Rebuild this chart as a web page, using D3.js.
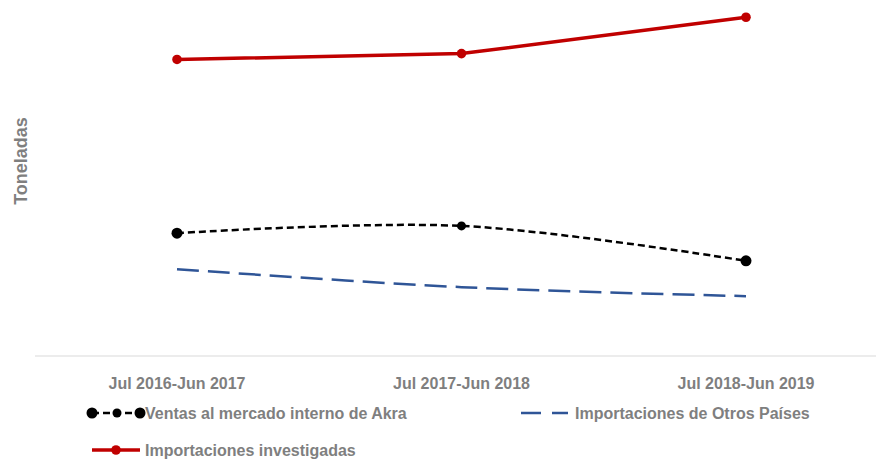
<!DOCTYPE html>
<html lang="es">
<head>
<meta charset="UTF-8">
<title>Toneladas</title>
<script src="https://d3js.org/d3.v7.min.js"></script>
<style>
    body { margin: 0; background: #fff; }
    text { font-family: "Liberation Sans Narrow", "Arial Narrow", "Liberation Sans", Arial, sans-serif; font-weight: bold; fill: #7f7f7f; }
</style>
</head>
<body>
<div id="chart"></div>
<script>
// categories and series (arbitrary units, no y ticks in original)
const periods = ["Jul 2016-Jun 2017", "Jul 2017-Jun 2018", "Jul 2018-Jun 2019"];
const ventasAkra = [35.5, 37.6, 27.5];
const importOtros = [25.1, 19.9, 17.3];
const importInvest = [85.7, 87.4, 97.9];

const width = 878, height = 461;

const svg = d3.select("#chart").append("svg")
    .attr("width", width)
    .attr("height", height);

const x = d3.scalePoint()
    .domain(periods)
    .range([34.75, 888.25])
    .padding(0.5);

const y = d3.scaleLinear()
    .domain([0, 100])
    .range([356, 10]);

// baseline
svg.append("line")
    .attr("x1", 35).attr("x2", width - 2)
    .attr("y1", y(0)).attr("y2", y(0))
    .attr("stroke", "#d9d9d9").attr("stroke-width", 1);

// category labels
svg.append("g").selectAll("text")
    .data(periods)
    .enter().append("text")
    .attr("x", d => x(d))
    .attr("y", 389)
    .attr("text-anchor", "middle")
    .attr("font-size", 16)
    .text(d => d);

// y title
svg.append("text")
    .attr("transform", "translate(27,161) rotate(-90)")
    .attr("text-anchor", "middle")
    .attr("font-size", 18)
    .text("Toneladas");

const smooth = d3.line()
    .x((d, i) => x(periods[i]))
    .y(d => y(d))
    .curve(d3.curveCatmullRom.alpha(0.5));

const straight = d3.line()
    .x((d, i) => x(periods[i]))
    .y(d => y(d));

// blue dashed
svg.append("path")
    .datum(importOtros)
    .attr("d", smooth)
    .attr("fill", "none")
    .attr("stroke", "#2f5597")
    .attr("stroke-width", 2.5)
    .attr("stroke-dasharray", "22,9");

// black dotted
svg.append("path")
    .datum(ventasAkra)
    .attr("d", smooth)
    .attr("fill", "none")
    .attr("stroke", "#000")
    .attr("stroke-width", 2.5)
    .attr("stroke-dasharray", "7,4");

svg.append("g").selectAll("circle")
    .data(ventasAkra)
    .enter().append("circle")
    .attr("cx", (d, i) => x(periods[i]))
    .attr("cy", d => y(d))
    .attr("r", (d, i) => i === 1 ? 4.5 : 5.5)
    .attr("fill", "#000");

// red solid
svg.append("path")
    .datum(importInvest)
    .attr("d", straight)
    .attr("fill", "none")
    .attr("stroke", "#c00000")
    .attr("stroke-width", 3.5);

svg.append("g").selectAll("circle")
    .data(importInvest)
    .enter().append("circle")
    .attr("cx", (d, i) => x(periods[i]))
    .attr("cy", d => y(d))
    .attr("r", 4.8)
    .attr("fill", "#c00000");

// legend
const lg = svg.append("g");

// Ventas
lg.append("line").attr("x1", 92).attr("x2", 140).attr("y1", 413).attr("y2", 413)
    .attr("stroke", "#000").attr("stroke-width", 2.5).attr("stroke-dasharray", "7,4");
[92, 117, 140].forEach((cx, i) => {
    lg.append("circle").attr("cx", cx).attr("cy", 413).attr("r", i === 1 ? 4.5 : 5.5).attr("fill", "#000");
});
lg.append("text").attr("x", 145).attr("y", 419).attr("font-size", 16)
    .text("Ventas al mercado interno de Akra");

// Otros
lg.append("line").attr("x1", 521).attr("x2", 568).attr("y1", 413).attr("y2", 413)
    .attr("stroke", "#2f5597").attr("stroke-width", 2.5).attr("stroke-dasharray", "20,11");
lg.append("text").attr("x", 575).attr("y", 419).attr("font-size", 16)
    .text("Importaciones de Otros Países");

// Investigadas
lg.append("line").attr("x1", 92).attr("x2", 140).attr("y1", 450).attr("y2", 450)
    .attr("stroke", "#c00000").attr("stroke-width", 3.5);
lg.append("circle").attr("cx", 116).attr("cy", 450).attr("r", 4.8).attr("fill", "#c00000");
lg.append("text").attr("x", 145).attr("y", 456).attr("font-size", 16)
    .text("Importaciones investigadas");
</script>
</body>
</html>
